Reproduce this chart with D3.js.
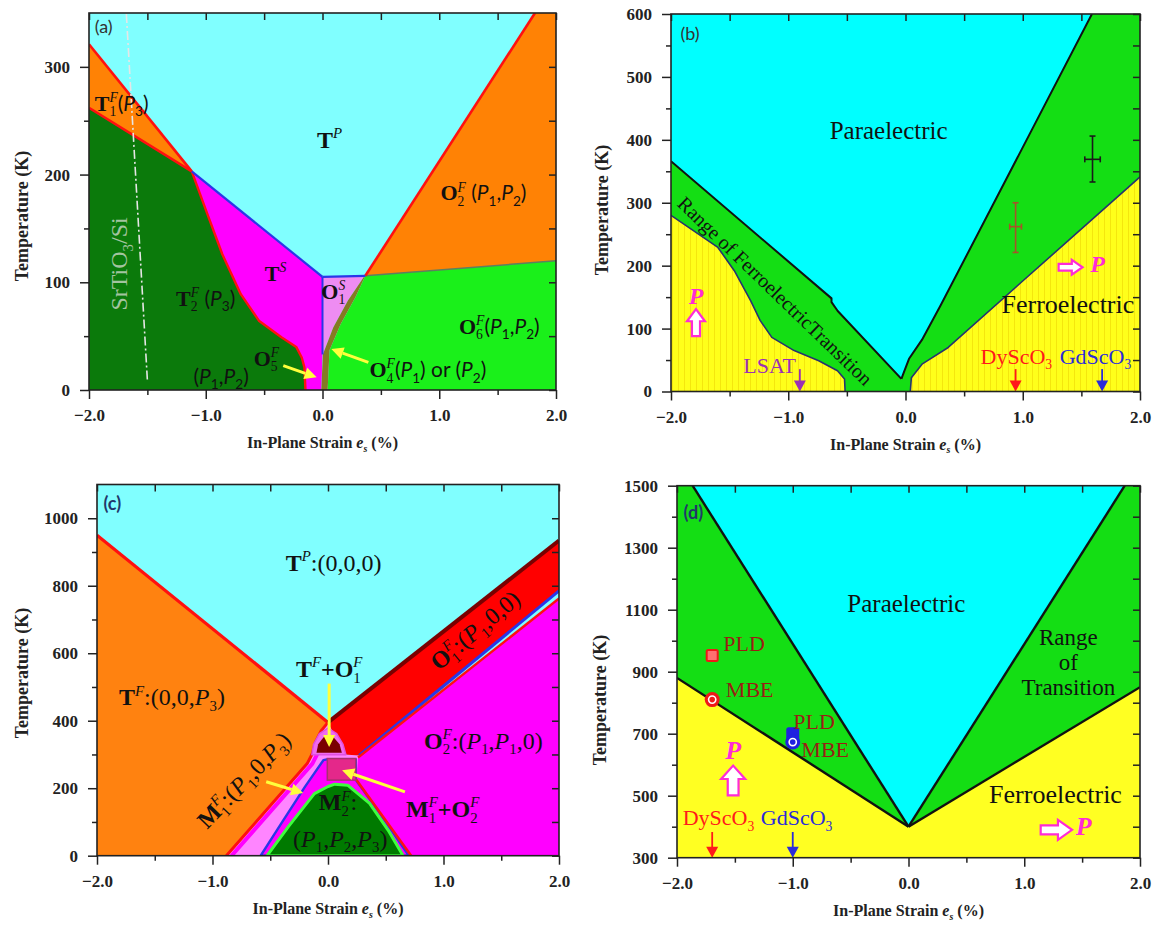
<!DOCTYPE html>
<html><head><meta charset="utf-8">
<script src="https://cdn.jsdelivr.net/npm/d3@7"></script>
<style>html,body{margin:0;padding:0;background:#fff;}svg{display:block;}</style>
</head><body>
<svg id="fig" width="1158" height="926"></svg>
<script>
// ---------------- shared axis values ----------------
const strainTicks = [-2, -1, 0, 1, 2];
const strainMinor = [-1.5, -0.5, 0.5, 1.5];

// ---------------- panel (a): STO-like film, 0-350 K ----------------
const aTempTicks = [0, 100, 200, 300];
const aTempMinor = [50, 150, 250];
const aT1Upper = [[-2, 321], [-1.12, 203]];
const aT1Lower = [[-2, 262], [-1.12, 203]];
const aT2Edge  = [[-1.12, 203], [-0.985, 163], [-0.858, 126], [-0.70, 89], [-0.542, 64], [-0.352, 49], [-0.225, 40], [-0.177, 30], [-0.155, 21], [-0.146, 0]];
const aTSTop   = [[-1.12, 203], [0, 105]];
const aOSTop   = [[0, 105], [0.367, 106]];
const aOSLeft  = [[0, 105], [0, 33]];
const aO4Left  = [[-0.01, 0], [0.003, 33], [0.092, 58], [0.218, 83], [0.361, 106]];
const aO4Right = [[0.044, 0], [0.06, 37], [0.155, 61], [0.282, 86], [0.367, 106]];
const aO2Edge  = [[0.367, 106], [1.82, 350]];
const aO6Top   = [[0.367, 106], [2, 120]];
const aSubstrateLine = [[-1.68, 349], [-1.5, 9]];
const aPointers = [[[-0.336, 22.6], [-0.05, 11.8]], [[0.393, 25.7], [0.076, 38]]];

// ---------------- panel (b): 0-600 K ----------------
const bTempTicks = [0, 100, 200, 300, 400, 500, 600];
const bTempMinor = [50, 150, 250, 350, 450, 550];
const bParaLeft  = [[-2, 366], [-0.631, 148], [-0.631, 142], [-0.578, 128], [-0.035, 20]];
const bParaRight = [[-0.035, 20], [-0.015, 30], [0.03, 52], [0.14, 82], [0.3, 137], [1.0, 388], [1.59, 600]];
const bFerroLeft = [[-2, 280], [-1.6, 229], [-1.46, 192], [-1.32, 144], [-1.24, 113], [-1.14, 86], [-0.95, 65], [-0.74, 49], [-0.58, 33], [-0.52, 20], [-0.515, 0]];
const bFerroRight = [[0.041, 0], [0.05, 22], [0.144, 44], [0.364, 70], [0.99, 174], [2, 341]];
const bMeasured = [
  {x: 0.939, T: 262, lo: 221, hi: 300, xerr: 0.05, color: '#A8522A'},
  {x: 1.595, T: 369, lo: 333, hi: 406, xerr: 0.066, color: '#1a1a1a'}
];
const bSubstrates = [
  {name: 'LSAT', x: -0.901, color: '#9B30B4'},
  {name: 'DyScO3', x: 0.939, color: '#FF1A1A'},
  {name: 'GdScO3', x: 1.677, color: '#2B2BD9'}
];

// ---------------- panel (c): 0-1100 K ----------------
const cTempTicks = [0, 200, 400, 600, 800, 1000];
const cTempMinor = [100, 300, 500, 700, 900];
const cTPEdge    = [[-2, 950], [0, 395]];
const cTFEdge    = [[0, 395], [-0.06, 370], [-0.11, 335], [-0.135, 303], [-0.18, 273], [-0.88, 0]];
const cO1Top     = [[0, 395], [2, 934]];
const cO1Bottom  = [[0.27, 297], [2, 785]];
const cO2Top     = [[0.26, 291], [2, 762]];
const cO2Left    = [[0.245, 225], [0.72, 0]];
const cDomeOuter = [[-0.583, 0], [-0.40, 98], [-0.2, 204], [-0.04, 283], [0.0, 286], [0.24, 286], [0.24, 225], [0.45, 125], [0.70, 0]];
const cM2Dome    = [[-0.528, 0], [-0.343, 86], [-0.118, 184], [0.0, 205], [0.058, 212], [0.17, 209], [0.36, 155], [0.52, 76], [0.65, 0]];
const cMixOuter  = [[-0.14, 299], [-0.125, 330], [-0.075, 362], [0, 378], [0.075, 362], [0.13, 330], [0.155, 299]];
const cMixInner  = [[-0.10, 305], [-0.085, 330], [-0.04, 350], [0, 357], [0.05, 350], [0.10, 330], [0.12, 305]];
const cMixBox    = {x0: -0.006, x1: 0.24, t0: 224, t1: 288};
const cPointers  = [[[0.01, 510], [0.01, 322]], [[-0.535, 219], [-0.215, 186]], [[0.666, 189], [0.122, 253]]];

// ---------------- panel (d): 300-1500 K ----------------
const dTempTicks = [300, 500, 700, 900, 1100, 1300, 1500];
const dTempMinor = [400, 600, 800, 1000, 1200, 1400];
const dParaLeft  = [[-1.865, 1500], [0, 400]];
const dParaRight = [[0, 400], [1.868, 1500]];
const dFerroLeft = [[-2, 880], [0, 400]];
const dFerroRight = [[0, 400], [2, 850]];
const dSamples = [
  {method: 'PLD', x: -1.696, T: 952, color: '#F01818'},
  {method: 'MBE', x: -1.696, T: 810, color: '#F01818'},
  {method: 'PLD', x: -1.0,   T: 700, color: '#2020E0'},
  {method: 'MBE', x: -1.0,   T: 673, color: '#2020E0'}
];
const dSubstrates = [
  {name: 'DyScO3', x: -1.696, color: '#FF1A1A'},
  {name: 'GdScO3', x: -1.0, color: '#2B2BD9'}
];

// ---------------- drawing helpers ----------------
const SERIF = '"Liberation Serif","Times New Roman",serif';
const SANS = 'Lato,"Liberation Sans",Arial,sans-serif';
const svg = d3.select('#fig');
const defs = svg.append('defs');

// faint vertical hatching used on the ferroelectric fill of (b)
const pat = defs.append('pattern').attr('id', 'yhatch').attr('patternUnits', 'userSpaceOnUse')
  .attr('width', 6).attr('height', 6);
pat.append('rect').attr('width', 6).attr('height', 6).attr('fill', '#FFFF1A');
pat.append('line').attr('x1', 0.5).attr('x2', 0.5).attr('y1', 0).attr('y2', 6)
  .attr('stroke', '#E6C800').attr('stroke-opacity', 0.45).attr('stroke-width', 1);

function makePanel(id, c) {
  const x = d3.scaleLinear().domain([-2, 2]).range([c.left, c.right]);
  const y = d3.scaleLinear().domain(c.yDomain).range([c.bottom, c.top]);
  defs.append('clipPath').attr('id', 'clip-' + id).append('rect')
    .attr('x', c.left).attr('y', c.top).attr('width', c.right - c.left).attr('height', c.bottom - c.top);
  const g = svg.append('g');
  const plot = g.append('g').attr('clip-path', `url(#clip-${id})`);
  const over = g.append('g');
  const line = d3.line().x(d => x(d[0])).y(d => y(d[1]));
  const area = pts => line(pts) + 'Z';
  const fill = (pts, color, stroke, sw) => plot.append('path').attr('d', area(pts)).attr('fill', color)
    .attr('stroke', stroke || 'none').attr('stroke-width', sw || 0).attr('stroke-linejoin', 'round');
  const stroke = (pts, color, w, dash) => plot.append('path').attr('d', line(pts)).attr('fill', 'none')
    .attr('stroke', color).attr('stroke-width', w).attr('stroke-linejoin', 'round')
    .attr('stroke-dasharray', dash || null);
  return {id, c, x, y, g, plot, over, line, area, fill, stroke};
}

function rich(parent, segs, px, py, o = {}) {
  const size = o.size || 20, color = o.color || '#111';
  const g = parent.append('g');
  let cx = 0, supX = 0, supW = 0;
  for (const [t, st = 'n', pos = ''] of segs) {
    const small = pos !== '';
    const sans = st[0] === 's';
    const fs = small ? size * 0.62 : (sans ? size * 0.95 : size);
    const dy = pos === 'sup' ? -size * 0.4 : (pos === 'sub' || pos === 'stk') ? size * 0.24 : 0;
    const x0 = pos === 'stk' ? supX : cx;
    const el = g.append('text').attr('x', x0).attr('y', dy)
      .attr('font-family', sans ? SANS : SERIF).attr('font-size', fs)
      .attr('font-weight', st.includes('b') ? 'bold' : 'normal')
      .attr('font-style', st.includes('i') ? 'italic' : 'normal')
      .attr('fill', color).text(t.replace(/ /g, '\u00a0'));
    const w = el.node().getComputedTextLength();
    if (pos === 'sup') { supX = x0; supW = w; cx = x0 + w; }
    else if (pos === 'stk') cx = supX + Math.max(w, supW);
    else cx = x0 + w;
  }
  const shift = o.anchor === 'start' ? 0 : o.anchor === 'end' ? -cx : -cx / 2;
  g.attr('transform', `translate(${px},${py}) rotate(${o.rotate || 0}) translate(${shift},${o.dy || 0})`);
  return g;
}

function labels(p, list) {
  list.forEach(l => rich(p.over, l.segs, p.x(l.x), p.y(l.T), l));
}

function axes(p, yMajor, yMinor, yTitle) {
  const {g, x, y, c} = p;
  const add = (gen, tx, ty) => {
    const a = g.append('g').attr('transform', `translate(${tx},${ty})`).call(gen);
    a.select('.domain').remove();
    a.attr('font-family', SERIF).attr('font-size', 17).attr('font-weight', 'bold');
    a.selectAll('line').attr('stroke', '#222').attr('stroke-width', 1.5);
    a.selectAll('text').attr('fill', '#222');
    return a;
  };
  add(d3.axisBottom(x).tickValues(strainTicks).tickFormat(d3.format('.1f')).tickSize(9).tickPadding(10), 0, c.bottom);
  add(d3.axisBottom(x).tickValues(strainMinor).tickFormat('').tickSize(5), 0, c.bottom);
  add(d3.axisTop(x).tickValues(strainTicks.concat(strainMinor)).tickFormat('').tickSize(-7), 0, c.top);
  add(d3.axisLeft(y).tickValues(yMajor).tickFormat(d3.format('d')).tickSize(9).tickPadding(10), c.left, 0);
  add(d3.axisLeft(y).tickValues(yMinor).tickFormat('').tickSize(5), c.left, 0);
  add(d3.axisRight(y).tickValues(yMajor.concat(yMinor)).tickFormat('').tickSize(-7), c.right, 0);
  g.append('rect').attr('x', c.left).attr('y', c.top).attr('width', c.right - c.left).attr('height', c.bottom - c.top)
    .attr('fill', 'none').attr('stroke', '#222').attr('stroke-width', 1.6);
  rich(g, [['In-Plane Strain ', 'b'], ['e', 'bi'], ['s', 'bi', 'sub'], [' (%)', 'b']], (c.left + c.right) / 2, c.bottom + 58, {size: 16, color: '#222'});
  rich(g, [['Temperature (K)', 'b']], yTitle[0] + 6, yTitle[1], {size: 18, color: '#222', rotate: -90});
}

function tag(p, text, xv, tv, color, bold) {
  p.over.append('text').attr('x', p.x(xv)).attr('y', p.y(tv)).attr('font-family', SANS)
    .attr('font-size', 18).attr('font-weight', bold ? 'bold' : 'normal').attr('fill', color).text(text);
}

function pointer(p, seg, color) {
  const [a, b] = seg.map(d => [p.x(d[0]), p.y(d[1])]);
  const ang = Math.atan2(b[1] - a[1], b[0] - a[0]);
  const hl = 12, hw = 6;
  const bx = b[0] - hl * Math.cos(ang), by = b[1] - hl * Math.sin(ang);
  p.over.append('line').attr('x1', a[0]).attr('y1', a[1]).attr('x2', bx).attr('y2', by)
    .attr('stroke', color).attr('stroke-width', 3);
  p.over.append('path').attr('fill', color).attr('d',
    `M${b[0]},${b[1]}L${bx + hw * Math.sin(ang)},${by - hw * Math.cos(ang)}L${bx - hw * Math.sin(ang)},${by + hw * Math.cos(ang)}Z`);
}

function blockArrow(p, cx, cy, len, wid, angle) {
  const hl = len * 0.45, sw = wid * 0.45;
  const pts = [[-len / 2, -sw / 2], [len / 2 - hl, -sw / 2], [len / 2 - hl, -wid / 2], [len / 2, 0],
               [len / 2 - hl, wid / 2], [len / 2 - hl, sw / 2], [-len / 2, sw / 2]];
  p.over.append('path').attr('d', 'M' + pts.join('L') + 'Z')
    .attr('transform', `translate(${cx},${cy}) rotate(${angle})`)
    .attr('fill', '#fff').attr('stroke', '#FF2BD6').attr('stroke-width', 2.2).attr('stroke-linejoin', 'miter');
}

function substrateArrow(p, xv, tTop, color) {
  const px = p.x(xv), y0 = p.y(tTop), y1 = p.c.bottom;
  p.over.append('line').attr('x1', px).attr('x2', px).attr('y1', y0).attr('y2', y1 - 9)
    .attr('stroke', color).attr('stroke-width', 1.8);
  p.over.append('path').attr('d', `M${px - 6},${y1 - 11}L${px + 6},${y1 - 11}L${px},${y1}Z`).attr('fill', color);
}

// ======================= panel (a) =======================
const A = makePanel('a', {left: 89, right: 556, top: 13, bottom: 390, yDomain: [0, 350]});
A.plot.append('rect').attr('x', 89).attr('y', 13).attr('width', 467).attr('height', 377).attr('fill', '#80FFFF');
A.fill([aT1Upper[0], aT1Upper[1], aT1Lower[0]], '#FF8205');
A.fill([[-2, 0], [-2, 262]].concat(aT2Edge), '#0B7A0B');
A.fill(aT2Edge.concat([[-0.01, 0], [0, 33], [0, 105]]), '#FF00FF');
A.fill([[0, 105], [0.367, 106]].concat(aO4Left.slice(1).reverse(), [[0, 33]]), '#EE8CF2');
A.fill([[0.367, 106], [1.82, 350], [2, 350], [2, 120]], '#FF8205');
A.fill([[2, 120], [2, 0]].concat(aO4Right), '#1AF01A');
A.fill(aO4Left.concat(aO4Right.slice().reverse()), '#857A22');
A.stroke(aO6Top, '#5E7F5E', 1.5);
A.stroke(aT1Upper, '#FF1010', 2.6);
A.stroke(aT1Lower, '#FF1010', 2.6);
A.stroke(aT2Edge, '#FF1010', 2.4);
A.stroke(aO2Edge, '#FF1010', 2.6);
A.stroke(aTSTop, '#2A36E8', 2.2);
A.stroke(aOSTop, '#2A36E8', 2.2);
A.stroke(aOSLeft, '#2A36E8', 2);
A.stroke(aSubstrateLine, '#E6E6E6', 1.6, '9,3,2,3');
axes(A, aTempTicks, aTempMinor, [22, 216]);
tag(A, '(a)', -1.951, 331, '#333', false);
labels(A, [
  {x: 0.06, T: 225, size: 24, segs: [['T', 'b'], ['P', 'i', 'sup']]},
  {x: -1.951, T: 259, size: 22, anchor: 'start', segs: [['T', 'b'], ['F', 'i', 'sup'], ['1', 'n', 'stk'], ['(', 's'], ['P', 'si'], ['3', 's', 'sub'], [')', 's']]},
  {x: 1.01, T: 176, size: 22, anchor: 'start', segs: [['O', 'b'], ['F', 'i', 'sup'], ['2', 'n', 'stk'], [' (', 's'], ['P', 'si'], ['1', 's', 'sub'], [',', 's'], ['P', 'si'], ['2', 's', 'sub'], [')', 's']]},
  {x: -0.494, T: 101, size: 22, anchor: 'start', segs: [['T', 'b'], ['S', 'i', 'sup']]},
  {x: -1.254, T: 78, size: 22, anchor: 'start', segs: [['T', 'b'], ['F', 'i', 'sup'], ['2', 'n', 'stk'], [' (', 's'], ['P', 'si'], ['3', 's', 'sub'], [')', 's']]},
  {x: -0.01, T: 84.5, size: 22, anchor: 'start', segs: [['O', 'b'], ['S', 'i', 'sup'], ['1', 'n', 'stk']]},
  {x: 1.169, T: 52, size: 22, anchor: 'start', segs: [['O', 'b'], ['F', 'i', 'sup'], ['6', 'n', 'stk'], ['(', 's'], ['P', 'si'], ['1', 's', 'sub'], [',', 's'], ['P', 'si'], ['2', 's', 'sub'], [')', 's']]},
  {x: -0.589, T: 22.6, size: 22, anchor: 'start', segs: [['O', 'b'], ['F', 'i', 'sup'], ['5', 'n', 'stk']]},
  {x: -1.105, T: 5.6, size: 22, anchor: 'start', segs: [['(', 's'], ['P', 'si'], ['1', 's', 'sub'], [',', 's'], ['P', 'si'], ['2', 's', 'sub'], [')', 's']]},
  {x: 0.402, T: 11.8, size: 22, anchor: 'start', segs: [['O', 'b'], ['F', 'i', 'sup'], ['4', 'n', 'stk'], ['(', 's'], ['P', 'si'], ['1', 's', 'sub'], [') or (', 's'], ['P', 'si'], ['2', 's', 'sub'], [')', 's']]}
]);
rich(A.over, [['SrTiO', 'n'], ['3', 'n', 'sub'], ['/Si', 'n']], A.x(-1.745) + 8, A.y(117), {size: 24, color: '#A3C4A0', rotate: -90});
aPointers.forEach(s => pointer(A, s, '#FFFF3C'));

// ======================= panel (b) =======================
const B = makePanel('b', {left: 671, right: 1140, top: 14, bottom: 391.5, yDomain: [0, 600]});
B.plot.append('rect').attr('x', 671).attr('y', 14).attr('width', 469).attr('height', 377.5).attr('fill', '#14DE14');
B.fill([[-2, 600]].concat(bParaLeft, bParaRight, [[2, 600]]), '#00FFFF');
B.fill([[-2, 0]].concat(bFerroLeft), 'url(#yhatch)');
B.fill(bFerroRight.concat([[2, 0]]), 'url(#yhatch)');
B.stroke(bParaLeft, '#111', 2);
B.stroke(bParaRight, '#111', 2);
B.stroke(bFerroLeft, '#26346E', 1.6);
B.stroke(bFerroRight, '#26346E', 1.6);
bMeasured.forEach(m => {
  const px = B.x(m.x), py = B.y(m.T);
  B.over.append('line').attr('x1', px).attr('x2', px).attr('y1', B.y(m.lo)).attr('y2', B.y(m.hi)).attr('stroke', m.color).attr('stroke-width', 1.6);
  B.over.append('line').attr('x1', B.x(m.x - m.xerr)).attr('x2', B.x(m.x + m.xerr)).attr('y1', py).attr('y2', py).attr('stroke', m.color).attr('stroke-width', 1.6);
  [m.lo, m.hi].forEach(t => B.over.append('line').attr('x1', px - 3).attr('x2', px + 3).attr('y1', B.y(t)).attr('y2', B.y(t)).attr('stroke', m.color).attr('stroke-width', 1.6));
  [m.x - m.xerr, m.x + m.xerr].forEach(v => B.over.append('line').attr('x1', B.x(v)).attr('x2', B.x(v)).attr('y1', py - 3).attr('y2', py + 3).attr('stroke', m.color).attr('stroke-width', 1.6));
});
bSubstrates.forEach(s => substrateArrow(B, s.x, 35.6, s.color));
axes(B, bTempTicks, bTempMinor, [602, 210]);
tag(B, '(b)', -1.92, 559, '#333', false);
labels(B, [
  {x: -0.144, T: 402, size: 25, segs: [['Paraelectric', 'n']]},
  {x: 1.385, T: 125, size: 26, segs: [['Ferroelectric', 'n']]},
  {x: -1.111, T: 160, size: 20, rotate: 44, dy: 7, segs: [['Range of FerroelectricTransition', 'n']]},
  {x: -1.159, T: 28.7, size: 22, color: '#9B30B4', segs: [['LSAT', 'n']]},
  {x: 0.945, T: 43.5, size: 22, color: '#FF1A1A', segs: [['DyScO', 'n'], ['3', 'n', 'sub']]},
  {x: 1.62, T: 43.5, size: 22, color: '#2B2BD9', segs: [['GdScO', 'n'], ['3', 'n', 'sub']]},
  {x: -1.787, T: 139, size: 24, color: '#FF2BD6', segs: [['P', 'bi']]},
  {x: 1.575, T: 189.6, size: 24, color: '#FF2BD6', anchor: 'start', segs: [['P', 'bi']]}
]);
blockArrow(B, B.x(-1.787), B.y(109.5), B.y(88) - B.y(131), 18, -90);
blockArrow(B, B.x(1.408), B.y(197.5), B.x(1.51) - B.x(1.306), 15, 0);

// ======================= panel (c) =======================
const C = makePanel('c', {left: 97, right: 559, top: 484.5, bottom: 855.7, yDomain: [0, 1100]});
C.plot.append('rect').attr('x', 97).attr('y', 484.5).attr('width', 462).attr('height', 371.2).attr('fill', '#80FFFF');
C.fill([[-2, 0], [-2, 950]].concat(cTFEdge), '#FF8210');
C.fill(cTFEdge.slice().reverse().concat([[0.06, 395], [0.14, 300], [0.27, 297], [0.245, 225], [0.72, 0]]), '#FF85FF');
C.fill([[0.72, 0], [2, 0], [2, 762], [0.26, 291], [0.245, 225]], '#FF00FF');
C.fill([[0, 395], [2, 934], [2, 785], [0.27, 297], [0.14, 300]], '#FF0000');
C.fill(cDomeOuter, '#FF00FF', '#2A36E8', 2.4);
C.fill(cM2Dome, '#007A00', '#3CFF3C', 3);
C.stroke(cTFEdge.slice(3).map(d => [d[0] + 0.045, d[1]]), '#FF00FF', 4);
C.stroke(cTPEdge, '#FF1010', 3.2);
C.stroke(cTFEdge, '#FF1010', 3);
C.stroke(cO1Top, '#7A0000', 4);
C.stroke(cO1Bottom, '#2A36E8', 3);
C.stroke(cO2Top, '#FF1010', 2.4);
C.stroke(cO2Left, '#FF1010', 2.6);
C.fill(cMixOuter, '#F06AF0', '#E050E0', 1.5);
C.fill(cMixInner, '#7A0000');
C.plot.append('rect').attr('x', C.x(cMixBox.x0)).attr('y', C.y(cMixBox.t1))
  .attr('width', C.x(cMixBox.x1) - C.x(cMixBox.x0)).attr('height', C.y(cMixBox.t0) - C.y(cMixBox.t1))
  .attr('fill', '#E4288A').attr('stroke', '#A8306E').attr('stroke-width', 1.5);
axes(C, cTempTicks, cTempMinor, [22, 673]);
tag(C, '(c)', -1.944, 1025, '#22386A', true);
labels(C, [
  {x: 0.048, T: 845, size: 24, segs: [['T', 'b'], ['P', 'i', 'sup'], [':(0,0,0)', 'n']]},
  {x: -1.351, T: 446, size: 24, segs: [['T', 'b'], ['F', 'i', 'sup'], [':(0,0,', 'n'], ['P', 'i'], ['3', 'n', 'sub'], [')', 'n']]},
  {x: 0.01, T: 530, size: 24, segs: [['T', 'b'], ['F', 'i', 'sup'], ['+O', 'b'], ['F', 'i', 'sup'], ['1', 'n', 'stk']]},
  {x: -0.727, T: 224, size: 24, rotate: -46, dy: 8, segs: [['M', 'b'], ['F', 'i', 'sup'], ['1', 'n', 'stk'], [':(', 'n'], ['P', 'i'], ['1', 'n', 'sub'], [',0,', 'n'], ['P', 'i'], ['3', 'n', 'sub'], [')', 'n']]},
  {x: 0.086, T: 135, size: 24, segs: [['M', 'b'], ['F', 'i', 'sup'], ['2', 'n', 'stk'], [':', 'n']]},
  {x: 0.106, T: 26.6, size: 24, segs: [['(', 'n'], ['P', 'i'], ['1', 'n', 'sub'], [',', 'n'], ['P', 'i'], ['2', 'n', 'sub'], [',', 'n'], ['P', 'i'], ['3', 'n', 'sub'], [')', 'n']]},
  {x: 1.275, T: 668, size: 24, rotate: -40, dy: 8, segs: [['O', 'b'], ['F', 'i', 'sup'], ['1', 'n', 'stk'], [':(', 'n'], ['P', 'i'], ['1', 'n', 'sub'], [',0,0)', 'n']]},
  {x: 1.345, T: 317.5, size: 24, segs: [['O', 'b'], ['F', 'i', 'sup'], ['2', 'n', 'stk'], [':(', 'n'], ['P', 'i'], ['1', 'n', 'sub'], [',', 'n'], ['P', 'i'], ['1', 'n', 'sub'], [',0)', 'n']]},
  {x: 0.993, T: 115, size: 24, segs: [['M', 'b'], ['F', 'i', 'sup'], ['1', 'n', 'stk'], ['+O', 'b'], ['F', 'i', 'sup'], ['2', 'n', 'stk']]}
]);
cPointers.forEach(s => pointer(C, s, '#FFFF3C'));

// ======================= panel (d) =======================
const D = makePanel('d', {left: 677, right: 1140, top: 485.7, bottom: 857.7, yDomain: [300, 1500]});
D.plot.append('rect').attr('x', 677).attr('y', 485.7).attr('width', 463).attr('height', 372).attr('fill', '#14DE14');
D.fill([[-2, 1500]].concat(dParaLeft, dParaRight.slice(1)), '#00FFFF');
D.fill([[-2, 300]].concat(dFerroLeft, dFerroRight.slice(1), [[2, 300]]), '#FFFF22');
[dParaLeft, dParaRight, dFerroLeft, dFerroRight].forEach(l => D.stroke(l, '#111', 2.4));
dSamples.forEach(s => {
  const px = D.x(s.x), py = D.y(s.T);
  if (s.method === 'PLD') {
    D.over.append('rect').attr('x', px - 5.5).attr('y', py - 5.5).attr('width', 11).attr('height', 11).attr('rx', 1.5)
      .attr('fill', s.color === '#F01818' ? '#FF7070' : s.color).attr('stroke', s.color).attr('stroke-width', 2);
  } else {
    D.over.append('circle').attr('cx', px).attr('cy', py).attr('r', 7.5).attr('fill', s.color);
    D.over.append('circle').attr('cx', px).attr('cy', py).attr('r', 3.6).attr('fill', 'none').attr('stroke', '#fff').attr('stroke-width', 1.6);
  }
});
dSubstrates.forEach(s => substrateArrow(D, s.x, 383, s.color));
axes(D, dTempTicks, dTempMinor, [600, 700]);
tag(D, '(d)', -1.944, 1394, '#22386A', true);
labels(D, [
  {x: -0.019, T: 1092, size: 25, segs: [['Paraelectric', 'n']]},
  {x: 1.381, T: 986, size: 23, segs: [['Range', 'n']]},
  {x: 1.381, T: 905, size: 23, segs: [['of', 'n']]},
  {x: 1.381, T: 824, size: 23, segs: [['Transition', 'n']]},
  {x: 1.27, T: 476, size: 26, segs: [['Ferroelectric', 'n']]},
  {x: -1.60, T: 968, size: 22, anchor: 'start', color: '#9A1E14', segs: [['PLD', 'n']]},
  {x: -1.578, T: 818, size: 22, anchor: 'start', color: '#9A1E14', segs: [['MBE', 'n']]},
  {x: -0.996, T: 716, size: 22, anchor: 'start', color: '#9A1E14', segs: [['PLD', 'n']]},
  {x: -0.926, T: 624, size: 22, anchor: 'start', color: '#9A1E14', segs: [['MBE', 'n']]},
  {x: -1.642, T: 404, size: 22, color: '#FF1A1A', segs: [['DyScO', 'n'], ['3', 'n', 'sub']]},
  {x: -0.967, T: 404, size: 22, color: '#2B2BD9', segs: [['GdScO', 'n'], ['3', 'n', 'sub']]},
  {x: -1.515, T: 619, size: 26, color: '#FF2BD6', segs: [['P', 'bi']]},
  {x: 1.445, T: 372, size: 26, color: '#FF2BD6', anchor: 'start', segs: [['P', 'bi']]}
]);
blockArrow(D, D.x(-1.515), D.y(549), D.y(501) - D.y(597), 24, -90);
blockArrow(D, D.x(1.2775), D.y(390), D.x(1.413) - D.x(1.142), 20, 0);
</script>
</body></html>
